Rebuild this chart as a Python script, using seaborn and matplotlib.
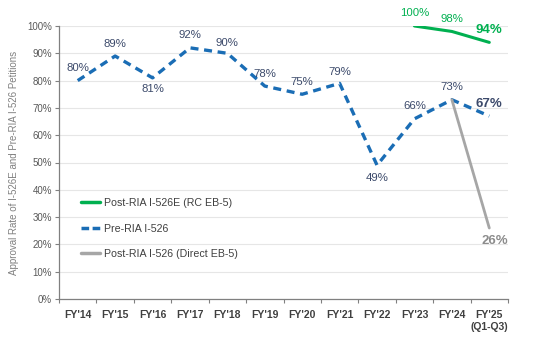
import matplotlib
matplotlib.use("Agg")
import matplotlib.pyplot as plt
import seaborn as sns
import pandas as pd
from matplotlib.lines import Line2D

categories = ["FY'14", "FY'15", "FY'16", "FY'17", "FY'18", "FY'19", "FY'20",
              "FY'21", "FY'22", "FY'23", "FY'24", "FY'25\n(Q1-Q3)"]
pre_ria = [80, 89, 81, 92, 90, 78, 75, 79, 49, 66, 73, 67]
post_526e_cats = ["FY'23", "FY'24", "FY'25\n(Q1-Q3)"]
post_526e = [100, 98, 94]
post_direct_cats = ["FY'24", "FY'25\n(Q1-Q3)"]
post_direct = [73, 26]

sns.set_theme(style="white")
plt.rcParams['font.family'] = ['Liberation Sans', 'DejaVu Sans']

GREEN = "#00B050"
BLUE = "#1A6DB5"
GREY = "#A6A6A6"
NAVY = "#3C4A6B"

idx = {c: i for i, c in enumerate(categories)}
df_pre = pd.DataFrame({"x": range(len(categories)), "y": pre_ria})
df_e = pd.DataFrame({"x": [idx[c] for c in post_526e_cats], "y": post_526e})
df_d = pd.DataFrame({"x": [idx[c] for c in post_direct_cats], "y": post_direct})

fig = plt.figure(figsize=(5.35, 3.37), dpi=100)
ax = fig.add_axes([59/535, 1 - 299/337, (508-59)/535, (299-26)/337])

sns.lineplot(data=df_pre, x="x", y="y", ax=ax, color=BLUE, lw=2.4)
ax.lines[-1].set_linestyle((0, (2.4, 1.7)))
ax.lines[-1].set_dash_capstyle("butt")
sns.lineplot(data=df_e, x="x", y="y", ax=ax, color=GREEN, lw=2.2)
sns.lineplot(data=df_d, x="x", y="y", ax=ax, color=GREY, lw=2.0)

ax.set_xlim(-0.5, len(categories) - 0.5)
ax.set_ylim(0, 100)
ax.set_yticks(range(0, 101, 10))
ax.set_yticklabels([f"{v}%" for v in range(0, 101, 10)], fontsize=7, color="#595959")
ax.set_xticks(range(len(categories)))
ax.set_xticklabels(categories, fontsize=7.5, fontweight="bold", color="#404040")
ax.set_xticks([i - 0.5 for i in range(len(categories) + 1)], minor=True)
ax.tick_params(axis="x", which="major", length=0, pad=8)
ax.tick_params(axis="x", which="minor", length=3, color="#808080", width=0.8, direction="out", bottom=True)
ax.tick_params(axis="y", which="major", length=3, color="#808080", width=0.8, left=True, pad=2)
ax.grid(axis="y", color="#E6E6E6", lw=0.8)
ax.set_axisbelow(True)
for s in ["top", "right"]:
    ax.spines[s].set_visible(False)
for s in ["left", "bottom"]:
    ax.spines[s].set_color("#808080")
    ax.spines[s].set_linewidth(0.9)
ax.set_xlabel("")
ax.set_ylabel("Approval Rate of I-526E and Pre-RIA I-526 Petitions", fontsize=7,
              color="#808080", labelpad=6)

# data labels (offsets in points)
pre_offsets = [(0, 9), (0, 9), (0, -8), (0, 9), (0, 7.5), (0, 9), (0, 9), (0, 8),
               (0, -9), (0, 9), (0, 9), (0, 9)]
for i, (v, off) in enumerate(zip(pre_ria, pre_offsets)):
    last = i == len(pre_ria) - 1
    ax.annotate(f"{v}%", (i, v), xytext=off, textcoords="offset points",
                ha="center", va="center", fontsize=9.5 if last else 8.2,
                fontweight="bold" if last else "normal", color=NAVY)
e_offsets = [(0, 9), (0, 9), (0, 9)]
for c, v, off in zip(post_526e_cats, post_526e, e_offsets):
    last = c == post_526e_cats[-1]
    ax.annotate(f"{v}%", (idx[c], v), xytext=off, textcoords="offset points",
                ha="center", va="center", fontsize=9.5 if last else 8.2,
                fontweight="bold" if last else "normal", color=GREEN)
ax.annotate(f"{post_direct[-1]}%", (idx[post_direct_cats[-1]], post_direct[-1]),
            xytext=(4, -9.5), textcoords="offset points", ha="center", va="center",
            fontsize=9.5, fontweight="bold", color="#8C8C8C")

handles = [Line2D([], [], color=GREEN, lw=2.5),
           Line2D([], [], color=BLUE, lw=2.5, linestyle=(0, (2.2, 1.0))),
           Line2D([], [], color=GREY, lw=2.5)]
labels = ["Post-RIA I-526E (RC EB-5)", "Pre-RIA I-526", "Post-RIA I-526 (Direct EB-5)"]
leg = ax.legend(handles, labels, loc="upper left", bbox_to_anchor=(0.04, 0.385),
                frameon=False, fontsize=7.7, handlelength=1.8, handletextpad=0.3,
                labelspacing=1.45, borderaxespad=0)
for t in leg.get_texts():
    t.set_color("#404040")

fig.savefig("out.png", dpi=100)
